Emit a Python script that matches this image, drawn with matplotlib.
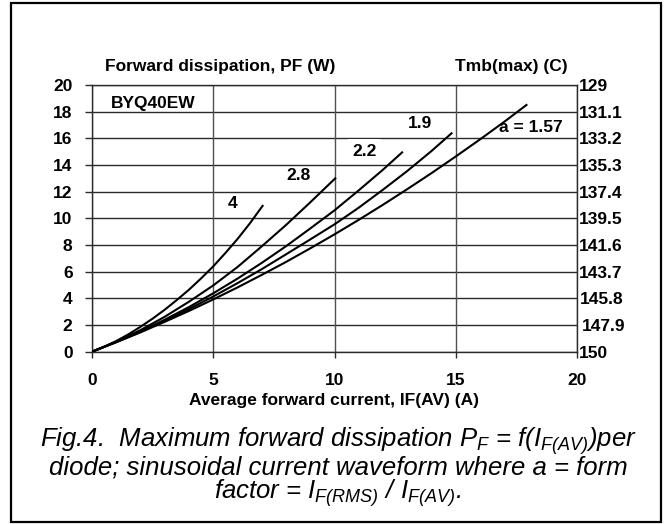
import matplotlib
matplotlib.use("Agg")
import matplotlib.pyplot as plt
from matplotlib.patches import Rectangle
from matplotlib.transforms import ScaledTranslation

plt.rcParams['font.family'] = ['Liberation Sans', 'DejaVu Sans']
plt.rcParams['mathtext.fontset'] = 'custom'
plt.rcParams['mathtext.rm'] = 'Liberation Sans:italic'
plt.rcParams['mathtext.it'] = 'Liberation Sans:italic'

# форм-фактор a и кривые P_F(I_F(AV))
x_a4 = [0, 0.5, 1, 1.5, 2, 2.5, 3, 3.5, 4, 4.5, 5, 5.5, 6, 6.5, 7.06]
y_a4 = [0, 0.37, 0.8, 1.3, 1.87, 2.48, 3.15, 3.88, 4.65, 5.5, 6.4, 7.4, 8.45, 9.6, 11.0]

x_a28 = [0, 1, 2, 3, 4, 5, 6, 7, 8, 9, 10.06]
y_a28 = [0, 0.75, 1.62, 2.62, 3.75, 4.97, 6.35, 7.9, 9.5, 11.2, 13.05]

x_a22 = [0, 1, 2, 3, 4, 5, 6, 7, 8, 9, 10, 11, 12, 12.82]
y_a22 = [0, 0.73, 1.53, 2.4, 3.35, 4.38, 5.48, 6.66, 7.91, 9.24, 10.6, 12.1, 13.65, 15.0]

x_a19 = [0, 1, 2, 3, 4, 5, 6, 7, 8, 9, 10, 11, 12, 13, 14, 14.86]
y_a19 = [0, 0.72, 1.49, 2.32, 3.2, 4.14, 5.14, 6.19, 7.3, 8.42, 9.55, 10.8, 12.15, 13.55, 15.05, 16.43]

x_a157 = [0, 1, 2, 3, 4, 5, 6, 7, 8, 9, 10, 11, 12, 13, 14, 15, 16, 17, 17.95]
y_a157 = [0, 0.71, 1.45, 2.24, 3.06, 3.92, 4.82, 5.76, 6.73, 7.75, 8.8, 9.89, 11.02, 12.19, 13.39, 14.64, 15.92, 17.24, 18.55]

curves = [(x_a4, y_a4), (x_a28, y_a28), (x_a22, y_a22), (x_a19, y_a19), (x_a157, y_a157)]

# подписи кривых: текст и точка привязки
curve_labels = ["4", "2.8", "2.2", "1.9", "a = 1.57"]
label_x = [5.78, 8.53, 11.25, 13.52, 18.1]
label_y = [11.1, 13.2, 15.05, 17.15, 16.85]

x_ticks = [0, 5, 10, 15, 20]
y_ticks = [0, 2, 4, 6, 8, 10, 12, 14, 16, 18, 20]
tmb_labels = ["150", "147.9", "145.8", "143.7", "141.6", "139.5", "137.4", "135.3", "133.2", "131.1", "129"]

fs = 12.5

fig = plt.figure(figsize=(6.7, 5.24), dpi=100)
ax = fig.add_axes([92 / 670, 172.3 / 524, 485 / 670, 266.7 / 524])

grid_c = '#2a2a2a'
for y in y_ticks:
    ax.axhline(y, color=grid_c, lw=1.0, zorder=1)
for x in x_ticks:
    ax.axvline(x, color='#505050', lw=1.0, zorder=1)

for xs, ys in curves:
    ax.plot(xs, ys, color='black', lw=1.5, zorder=3, solid_capstyle='butt')

for t, lx, ly in zip(curve_labels, label_x, label_y):
    kw = {}
    if t == "2.2":
        kw['bbox'] = dict(facecolor='white', edgecolor='none', pad=3)
    ax.text(lx, ly, t, ha='center', va='center', fontsize=fs, fontweight='bold', zorder=4, **kw)

ax.text(2.54, 18.63, "BYQ40EW", ha='center', va='center', fontsize=fs, fontweight='bold', zorder=4)

ax.set_xlim(0, 20)
ax.set_ylim(0, 20)
ax.set_xticks(x_ticks)
ax.set_yticks(y_ticks)
ax.tick_params(axis='both', direction='out', length=5, width=1.0, color=grid_c, labelsize=fs)
ax.tick_params(axis='y', pad=9)
ax.tick_params(axis='x', pad=11, length=4)
for lab in ax.get_xticklabels() + ax.get_yticklabels():
    lab.set_fontweight('bold')
for s in ax.spines.values():
    s.set_color(grid_c)
    s.set_linewidth(1.0)

ax2 = ax.twinx()
ax2.set_ylim(0, 20)
ax2.set_yticks(y_ticks)
ax2.set_yticklabels(tmb_labels)
ax2.tick_params(axis='y', length=0, pad=1, labelsize=fs)
for lab in ax2.get_yticklabels():
    lab.set_fontweight('bold')
for s in ax2.spines.values():
    s.set_visible(False)
# в оригинале 147.9 и 145.8 чуть сдвинуты вправо
shifts = {1: 2.4 / 72, 2: 1.2 / 72}
for i, lab in enumerate(ax2.get_yticklabels()):
    if i in shifts:
        lab.set_transform(lab.get_transform() + ScaledTranslation(shifts[i], 0, fig.dpi_scale_trans))

fig.text(220 / 670, 1 - 67 / 524, "Forward dissipation, PF (W)", ha='center', va='center',
         fontsize=fs, fontweight='bold')
fig.text(511 / 670, 1 - 67 / 524, "Tmb(max) (C)", ha='center', va='center',
         fontsize=fs, fontweight='bold')
fig.text(334 / 670, 1 - 401 / 524, "Average forward current, IF(AV) (A)", ha='center', va='center',
         fontsize=fs, fontweight='bold')

cap = dict(ha='center', va='center', fontsize=18.5, fontstyle='italic')
fig.text(338 / 670, 1 - 441 / 524, r"Fig.4.  Maximum forward dissipation $P_F$ = f($I_{F(AV)}$)per", **cap)
fig.text(338 / 670, 1 - 467 / 524, "diode; sinusoidal current waveform where a = form", **cap)
fig.text(338 / 670, 1 - 493 / 524, r"factor = $I_{F(RMS)}$ / $I_{F(AV)}$.", **cap)

fig.patches.append(Rectangle((11 / 670, 2 / 524), 650 / 670, 519 / 524, transform=fig.transFigure,
                             fill=False, edgecolor='black', lw=1.6))

fig.savefig("out.png", dpi=100)
